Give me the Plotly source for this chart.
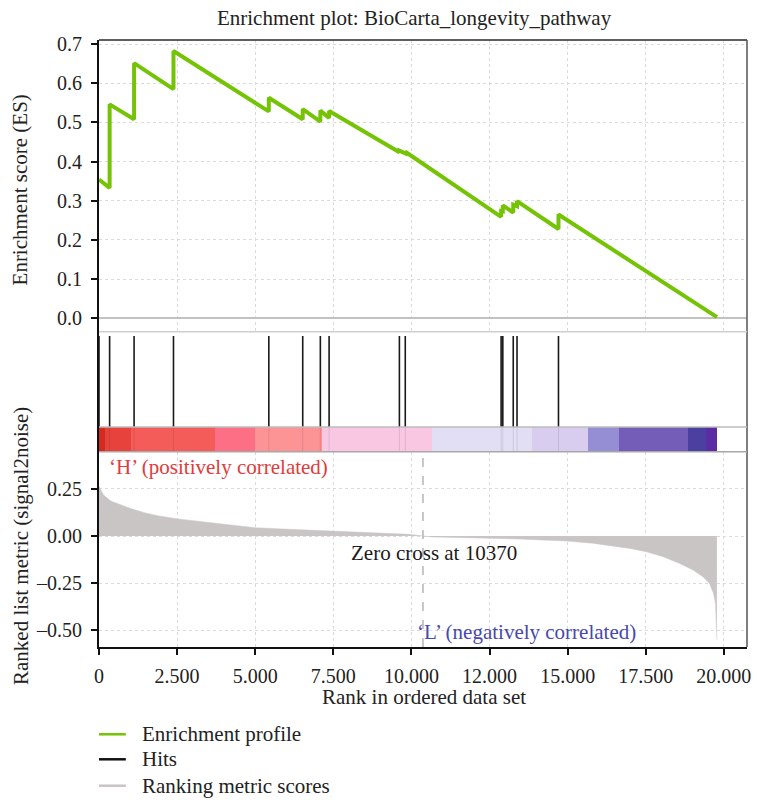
import plotly.graph_objects as go

FONT = "Liberation Serif"

# ---- data -------------------------------------------------------------
N_GENES = 19780
X_MAX = 20741

# running enrichment score (rank, ES); repeated ranks are the jumps at hits
es_rank = [0, 340, 340, 1123, 1123, 2384, 2384, 5436, 5436, 6521, 6521,
           7085, 7085, 7365, 7365, 9615, 9615, 9803, 9803, 12871, 12871,
           12925, 12925, 13259, 13259, 13380, 13380, 14707, 14707, 19780]
es_value = [0.354, 0.333, 0.546, 0.508, 0.651, 0.585, 0.682, 0.528, 0.563,
            0.508, 0.534, 0.502, 0.530, 0.511, 0.529, 0.424, 0.428, 0.421,
            0.425, 0.259, 0.274, 0.273, 0.288, 0.270, 0.290, 0.286, 0.299,
            0.228, 0.265, 0.003]

# positions of pathway genes in the ranked list
hit_ranks = [0, 340, 1123, 2384, 5436, 6521, 7085, 7365, 9615, 9803,
             12871, 12925, 13259, 13380, 14707]

# ranked list metric (signal2noise)
metric_rank = [0, 146, 376, 684, 990, 1452, 1913, 2527, 3297, 4220, 4987,
               6066, 7295, 8523, 9908, 10370, 10678, 12215, 13444, 14981,
               15800, 16996, 17527, 18058, 18589, 19014, 19332, 19542,
               19669, 19733, 19777]
metric_value = [0.263, 0.218, 0.186, 0.165, 0.147, 0.124, 0.107, 0.091,
                0.076, 0.055, 0.044, 0.036, 0.027, 0.020, 0.009, 0.0,
                -0.005, -0.011, -0.016, -0.027, -0.038, -0.066, -0.084,
                -0.110, -0.146, -0.181, -0.217, -0.252, -0.305, -0.359,
                -0.551]
zero_cross = 10370

# heat strip bands along the ranked list
band_edges = [0, 181, 1031, 3714, 4978, 7129, 10646, 13867, 15640, 16658,
              18864, 19437, 19777]
band_colors = ["#d52a20", "#e8423d", "#f45c5a", "#fd6f85", "#fc9395",
               "#f9c7e2", "#e2dff5", "#d9cdef", "#958ed4", "#745db8",
               "#4b40a0", "#5b2ca2"]

x_tickvals = [0, 2500, 5000, 7500, 10000, 12500, 15000, 17500, 20000]
x_ticktext = ["0", "2.500", "5.000", "7.500", "10.000", "12.000", "15.000",
              "17.500", "20.000"]
es_tickvals = [0.0, 0.1, 0.2, 0.3, 0.4, 0.5, 0.6, 0.7]
es_ticktext = ["0.0", "0.1", "0.2", "0.3", "0.4", "0.5", "0.6", "0.7"]
metric_tickvals = [0.25, 0.0, -0.25, -0.5]
metric_ticktext = ["0.25", "0.00", "\u20130.25", "\u20130.50"]

# ---- colours ----------------------------------------------------------
GREEN = "#74c405"
GREY_BAR = "#c9c5c5"
GRID = "#dadada"

# ---- panel geometry (paper fractions) --------------------------------
D_METRIC = [0.0, 0.3217]
D_STRIP = [0.3217, 0.3624]
D_HITS = [0.3624, 0.5194]
D_ES = [0.5194, 1.0]

fig = go.Figure()

# enrichment profile
fig.add_trace(go.Scatter(x=es_rank, y=es_value, mode="lines",
                         line=dict(color=GREEN, width=4),
                         xaxis="x", yaxis="y", showlegend=False,
                         hoverinfo="skip"))

# hits
hx, hy = [], []
for r in hit_ranks:
    hx += [r, r, None]
    hy += [0, 0.955, None]
fig.add_trace(go.Scatter(x=hx, y=hy, mode="lines",
                         line=dict(color="#1a1a1a", width=1.6),
                         xaxis="x2", yaxis="y2", showlegend=False,
                         hoverinfo="skip"))

# heat strip
mids = [(a + b) / 2 for a, b in zip(band_edges[:-1], band_edges[1:])]
widths = [b - a for a, b in zip(band_edges[:-1], band_edges[1:])]
fig.add_trace(go.Bar(x=mids, y=[1] * len(mids), width=widths,
                     marker=dict(color=band_colors, line=dict(width=0)),
                     xaxis="x3", yaxis="y3", showlegend=False,
                     hoverinfo="skip"))
sx, sy = [], []
for r in hit_ranks[1:]:
    sx += [r, r, None]
    sy += [0, 1, None]
fig.add_trace(go.Scatter(x=sx, y=sy, mode="lines",
                         line=dict(color="rgba(0,0,0,0.10)", width=1),
                         xaxis="x3", yaxis="y3", showlegend=False,
                         hoverinfo="skip"))

# ranked list metric
fig.add_trace(go.Scatter(x=metric_rank, y=metric_value, mode="lines",
                         fill="tozeroy", fillcolor=GREY_BAR,
                         line=dict(color=GREY_BAR, width=0.5),
                         xaxis="x4", yaxis="y4", showlegend=False,
                         hoverinfo="skip"))

tick_font = dict(family=FONT, size=20, color="#222")
xcommon = dict(range=[0, X_MAX], showline=False, zeroline=False,
               tickvals=x_tickvals, fixedrange=True)

fig.update_layout(
    width=757, height=800,
    margin=dict(l=99, r=6, t=40, b=153),
    paper_bgcolor="white", plot_bgcolor="white",
    font=dict(family=FONT, size=20, color="#222"),
    bargap=0,
    title=dict(text="Enrichment plot: BioCarta_longevity_pathway",
               font=dict(family=FONT, size=21, color="#222"),
               x=0.547, xanchor="center", y=0.9775, yanchor="middle"),
    xaxis=dict(domain=[0, 1], anchor="y", showticklabels=False,
               showgrid=True, gridcolor=GRID, griddash="dot", gridwidth=1,
               ticks="", **xcommon),
    yaxis=dict(domain=D_ES, anchor="x", range=[-0.0342, 0.7102],
               tickvals=es_tickvals, ticktext=es_ticktext,
               showgrid=True, gridcolor=GRID, griddash="dot", gridwidth=1,
               zeroline=True, zerolinecolor="#c2c2c2", zerolinewidth=2,
               showline=True, linecolor="#111", linewidth=2,
               ticks="outside", ticklen=6, tickwidth=2, tickcolor="#111",
               ticklabelstandoff=5, tickfont=tick_font),
    xaxis2=dict(domain=[0, 1], anchor="y2", showticklabels=False,
                showgrid=False, ticks="", **xcommon),
    yaxis2=dict(domain=D_HITS, anchor="x2", range=[0, 1],
                showgrid=False, zeroline=False, showticklabels=False,
                ticks="", showline=True, linecolor="#111", linewidth=2),
    xaxis3=dict(domain=[0, 1], anchor="y3", showticklabels=False,
                showgrid=False, ticks="", **xcommon),
    yaxis3=dict(domain=D_STRIP, anchor="x3", range=[0, 1],
                showgrid=False, zeroline=False, showticklabels=False,
                ticks="", showline=True, linecolor="#111", linewidth=2),
    xaxis4=dict(domain=[0, 1], anchor="y4", ticktext=x_ticktext,
                showgrid=True, gridcolor=GRID, griddash="dot", gridwidth=1,
                ticks="outside", ticklen=6, tickwidth=2, tickcolor="#111",
                ticklabelstandoff=4, tickfont=tick_font,
                range=[0, X_MAX], tickvals=x_tickvals, zeroline=False,
                showline=True, linecolor="#111", linewidth=2,
                fixedrange=True),
    yaxis4=dict(domain=D_METRIC, anchor="x4", range=[-0.590, 0.448],
                tickvals=metric_tickvals, ticktext=metric_ticktext,
                showgrid=True, gridcolor=GRID, griddash="dot", gridwidth=1,
                zeroline=False,
                showline=True, linecolor="#111", linewidth=2,
                ticks="outside", ticklen=6, tickwidth=2, tickcolor="#111",
                ticklabelstandoff=5, tickfont=tick_font),
)

shapes = [
    # outer frame: top and right edges
    dict(type="line", xref="paper", yref="paper", x0=0, x1=1, y0=1, y1=1,
         line=dict(color="#2a2a2a", width=1.5)),
    dict(type="line", xref="paper", yref="paper", x0=1, x1=1, y0=0, y1=1,
         line=dict(color="#555", width=1.5)),
    # panel separators
    dict(type="line", xref="paper", yref="paper", x0=0, x1=1,
         y0=D_HITS[1], y1=D_HITS[1], line=dict(color="#cfcfcf", width=1.5)),
    dict(type="line", xref="paper", yref="paper", x0=0, x1=1,
         y0=D_STRIP[1], y1=D_STRIP[1], line=dict(color="#bdbdbd", width=1.5)),
    dict(type="line", xref="paper", yref="paper", x0=0, x1=1,
         y0=D_STRIP[0], y1=D_STRIP[0], line=dict(color="#a8a8a8", width=1.5)),
    # zero crossing marker
    dict(type="line", xref="x4", yref="paper", x0=zero_cross, x1=zero_cross,
         y0=D_METRIC[0], y1=D_METRIC[1],
         line=dict(color="#b5b5b5", width=1.5, dash="dash")),
]

# legend drawn beneath the plot
legend_items = [("Enrichment profile", GREEN, -0.1438),
                ("Hits", "#111111", -0.185),
                ("Ranking metric scores", GREY_BAR, -0.2285)]
annotations = []
for label, color, yy in legend_items:
    shapes.append(dict(type="line", xref="paper", yref="paper",
                       x0=0.0, x1=0.0414, y0=yy, y1=yy,
                       line=dict(color=color, width=2.5)))
    annotations.append(dict(text=label, xref="paper", yref="paper",
                            x=0.0629, y=yy, xanchor="left", yanchor="middle",
                            showarrow=False,
                            font=dict(family=FONT, size=21, color="#222")))

annotations += [
    dict(text="Enrichment score (ES)", xref="paper", yref="paper",
         x=-0.1212, y=0.7529, textangle=-90, xanchor="center",
         yanchor="middle", showarrow=False,
         font=dict(family=FONT, size=21, color="#222")),
    dict(text="Ranked list metric (signal2noise)", xref="paper",
         yref="paper", x=-0.1212, y=0.1672, textangle=-90,
         xanchor="center", yanchor="middle", showarrow=False,
         font=dict(family=FONT, size=21, color="#222")),
    dict(text="Rank in ordered data set", xref="paper", yref="paper",
         x=0.5008, y=-0.0824, xanchor="center", yanchor="middle",
         showarrow=False, font=dict(family=FONT, size=21, color="#222")),
    dict(text="\u2018H\u2019 (positively correlated)", xref="x4", yref="y4",
         x=245, y=0.368, xanchor="left", yanchor="middle", showarrow=False,
         font=dict(family=FONT, size=21, color="#e23b3b")),
    dict(text="Zero cross at 10370", xref="x4", yref="y4",
         x=10710, y=-0.088, xanchor="center", yanchor="middle",
         showarrow=False, font=dict(family=FONT, size=21, color="#1a1a1a")),
    dict(text="\u2018L\u2019 (negatively correlated)", xref="x4", yref="y4",
         x=10100, y=-0.51, xanchor="left", yanchor="middle",
         showarrow=False, font=dict(family=FONT, size=21, color="#4848b0")),
]

fig.update_layout(shapes=shapes, annotations=annotations)

fig.write_html("out.html")
